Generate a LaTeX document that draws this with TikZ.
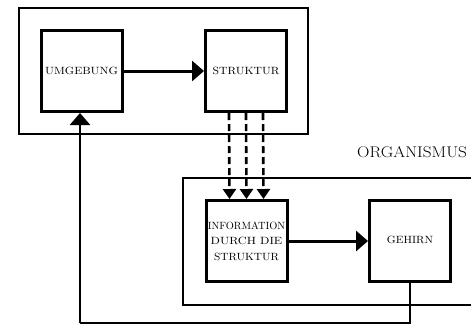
\documentclass[tikz,border=0pt]{standalone}
\usepackage{fontspec}
\usepackage{graphicx}
\usetikzlibrary{arrows.meta}
\begin{document}
\begin{tikzpicture}[x=1pt,y=-1pt,
 box/.style={draw,line width=3pt,minimum width=81pt,minimum height=81pt,inner sep=0pt,
   font=\fontsize{10.5}{15.5}\selectfont\addfontfeatures{FakeBold=1.5},align=center},
 frame/.style={line width=1.2pt},
 bigarrow/.style={line width=3pt,-{Triangle[length=12pt,width=20pt]}},
 dasharrow/.style={line width=2.6pt,dash pattern=on 7pt off 4pt,-{Triangle[length=10pt,width=13pt]}},
 fbline/.style={line width=2.6pt},
 lbl/.style={inner sep=0pt,anchor=base west,font=\fontsize{15.5}{18}\selectfont}]
\useasboundingbox (0,0) rectangle (471,325);
% frames
\draw[frame] (19,8) rectangle (308,134);
\draw[frame] (472,178) -- (183,178) -- (183,305) -- (472,305);
% boxes
\node[box] (U) at (81.5,71) {\scalebox{1.13}[1]{UMGEBUNG}};
\node[box] (S) at (246,71) {\scalebox{1.11}[1]{STRUKTUR}};
\node[box] (I) at (246.5,241) {\raisebox{-8pt}{\parbox{80pt}{\centering\scalebox{0.99}[1]{INFORMATION}\\\scalebox{1.17}[1]{DURCH DIE}\\\scalebox{1.08}[1]{STRUKTUR}}}};
\node[box] (G) at (410,241) {\raisebox{3pt}{\scalebox{1.08}[1]{GEHIRN}}};
\node[lbl] (O) at (357,157) {\scalebox{1.11}[1]{ORGANISMUS}};
% arrows
\draw[bigarrow] (U.east) -- (S.west);
\draw[bigarrow] (I.east) -- (G.west);
\draw[dasharrow] ([xshift=-17pt]S.south) -- ([xshift=-17pt]I.north);
\draw[dasharrow] (S.south) -- (I.north);
\draw[dasharrow] ([xshift=17pt]S.south) -- ([xshift=17pt]I.north);
\coordinate (fb) at (80,323);
\draw[fbline] (G.south) |- (fb);
\draw[bigarrow,line width=2.6pt] (fb) -- (fb |- U.south);
\end{tikzpicture}
\end{document}
